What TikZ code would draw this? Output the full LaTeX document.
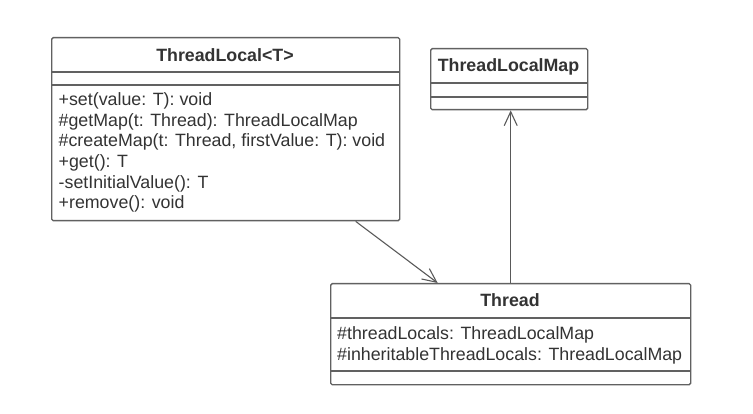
\documentclass[tikz,border=0pt]{standalone}
\usepackage{fontspec}
\setmainfont{Liberation Sans}
\usetikzlibrary{arrows.meta}

\newcommand{\umlfont}{\fontsize{17.8}{20.6}\selectfont}

\tikzset{
  classbox/.style={draw=black!62, line width=1.4pt, rounded corners=1.5pt, fill=white, inner sep=0pt, anchor=north west},
  sepline/.style={draw=black!62, line width=1.4pt},
  classname/.style={font=\umlfont\bfseries, text=black!80, anchor=base, inner sep=0pt},
  member/.style={font=\umlfont, text=black!80, anchor=base west, inner sep=0pt},
  assoc/.style={draw=black!65, line width=1.1pt, -{Straight Barb[length=14pt, width=13pt, line width=1.1pt]}},
}

\begin{document}
\begin{tikzpicture}[x=1pt, y=-1pt]
  \useasboundingbox (0,0) rectangle (753,414);

  % ThreadLocal<T>
  \node[classbox, minimum width=348pt, minimum height=183pt] (tl) at (51,37) {};
  \draw[sepline] ([yshift=-35pt]tl.north west) -- ([yshift=-35pt]tl.north east);
  \draw[sepline] ([yshift=-48pt]tl.north west) -- ([yshift=-48pt]tl.north east);
  \node[classname] (tlname) at (225,61.5) {ThreadLocal<T>};
  \foreach \m [count=\i] in {+set(value: T): void, \#getMap(t: Thread): ThreadLocalMap,
      {\#createMap(t: Thread, firstValue: T): void}, +get(): T, -setInitialValue(): T, +remove(): void}
    \node[member] (tlop\i) at (58.5,{105.5+20.67*(\i-1)}) {\m};

  % ThreadLocalMap
  \node[classbox, minimum width=157pt, minimum height=61pt] (tlm) at (430,48) {};
  \draw[sepline] ([yshift=-35pt]tlm.north west) -- ([yshift=-35pt]tlm.north east);
  \draw[sepline] ([yshift=-49pt]tlm.north west) -- ([yshift=-49pt]tlm.north east);
  \node[classname] (tlmname) at (508.5,72) {ThreadLocalMap};

  % Thread
  \node[classbox, minimum width=360pt, minimum height=101pt] (th) at (330,283) {};
  \draw[sepline] ([yshift=-35pt]th.north west) -- ([yshift=-35pt]th.north east);
  \draw[sepline] ([yshift=-88pt]th.north west) -- ([yshift=-88pt]th.north east);
  \node[classname] (thname) at (510,307) {Thread};
  \node[member] (thattr1) at (337,339) {\#threadLocals: ThreadLocalMap};
  \node[member] (thattr2) at (337,360.5) {\#inheritableThreadLocals: ThreadLocalMap};

  % associations
  \draw[assoc] ([xshift=130pt]tl.south) -- ([xshift=-73pt]th.north);
  \draw[assoc] (th.north) -- (th.north |- tlm.south);
\end{tikzpicture}
\end{document}
